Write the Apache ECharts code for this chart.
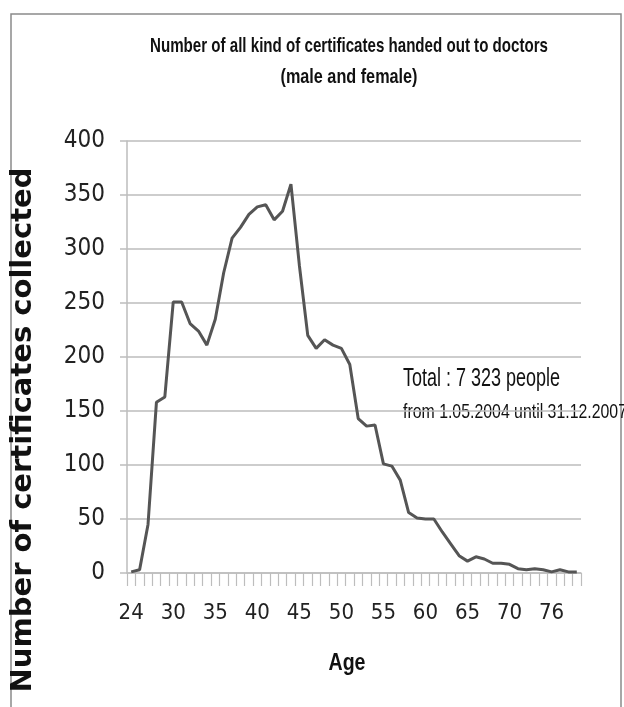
<!DOCTYPE html>
<html>
<head>
<meta charset="utf-8">
<script src="https://cdn.jsdelivr.net/npm/echarts@6/dist/echarts.min.js"></script>
<style>
  html, body { margin: 0; padding: 0; background: #fff; }
  #chart { width: 624px; height: 707px; }
</style>
</head>
<body>
<div id="chart"></div>
<script>
// Age groups along the horizontal axis
const ages = [24, 26, 27, 28, 29, 30, 31, 32, 33, 34, 35, 36, 37, 38, 39, 40,
  41, 42, 43, 44, 45, 46, 47, 48, 49, 50, 51, 52, 53, 54, 55, 56, 57, 58, 59,
  60, 61, 62, 63, 64, 65, 66, 67, 68, 69, 70, 71, 72, 73, 74, 76, 77, 78, 79];

// Certificates collected per age
const certificates = [1, 3, 45, 158, 163, 251, 251, 231, 224, 211, 235, 278,
  310, 320, 332, 339, 341, 327, 335, 360, 285, 220, 208, 216, 211, 208, 193,
  143, 136, 137, 101, 99, 86, 56, 51, 50, 50, 38, 27, 16, 11, 15, 13, 9, 9, 8,
  4, 3, 4, 3, 1, 3, 1, 1];

const yTicks = { min: 0, max: 400, step: 50 };

const titleLine1 = 'Number of all kind of certificates handed out to doctors';
const titleLine2 = '(male and female)';
const totalNote = 'Total : 7 323 people';
const periodNote = 'from 1.05.2004 until 31.12.2007';

const condensed = '"DejaVu Sans Condensed", "Liberation Sans", sans-serif';
const sans = '"Liberation Sans", Arial, sans-serif';
const gridGray = '#bdbdbd';

// Horizontal squeeze factor so a string set in a regular face
// takes the width of a narrow face.
const measureCtx = document.createElement('canvas').getContext('2d');
function squeeze(text, font, width) {
  measureCtx.font = font;
  return width / measureCtx.measureText(text).width;
}

// Narrow text: anchored at (x, y) with its vertical middle on y
function narrowText(text, font, x, y, width, align) {
  return {
    type: 'text',
    x: x, y: y,
    scaleX: squeeze(text, font, width),
    style: {
      text: text, x: 0, y: 0, font: font, fill: '#111',
      textAlign: align, textVerticalAlign: 'middle'
    }
  };
}

const chart = echarts.init(document.getElementById('chart'), null, { renderer: 'canvas' });

const titleFont = 'bold 21px ' + sans;
const totalFont = '25px ' + sans;
const periodFont = '21px ' + sans;
const ageFont = 'bold 23px ' + sans;

chart.setOption({
  backgroundColor: '#ffffff',
  animation: false,
  grid: { left: 127, right: 43, top: 141, bottom: 134, containLabel: false },
  xAxis: {
    type: 'category',
    data: ages,
    boundaryGap: true,
    axisLine: { show: true, lineStyle: { color: gridGray, width: 1.5 } },
    axisTick: { show: true, interval: 0, length: 13, lineStyle: { color: gridGray, width: 1.2 } },
    axisLabel: { interval: 4, margin: 29, color: '#222', fontFamily: condensed, fontSize: 22 },
    splitLine: { show: false }
  },
  yAxis: {
    type: 'value',
    min: yTicks.min,
    max: yTicks.max,
    interval: yTicks.step,
    axisLine: { show: true, lineStyle: { color: gridGray, width: 1.5 } },
    axisTick: { show: true, length: 7, lineStyle: { color: gridGray, width: 1.5 } },
    axisLabel: { margin: 22, color: '#222', fontFamily: condensed, fontSize: 24 },
    splitLine: { show: true, lineStyle: { color: gridGray, width: 1.5 } }
  },
  series: [{
    type: 'line',
    data: certificates,
    symbol: 'none',
    smooth: false,
    lineStyle: { color: '#555555', width: 3 },
    z: 5
  }],
  graphic: [
    {
      type: 'rect',
      shape: { x: 11, y: 14, width: 610, height: 720 },
      style: { fill: 'none', stroke: '#8a8a8a', lineWidth: 1.5 },
      silent: true, z: 0
    },
    narrowText(titleLine1, titleFont, 349, 46, 398, 'center'),
    narrowText(titleLine2, titleFont, 349, 77, 137, 'center'),
    narrowText(totalNote, totalFont, 403, 379, 157, 'left'),
    narrowText(periodNote, periodFont, 403, 412, 224, 'left'),
    {
      type: 'text',
      rotation: Math.PI / 2,
      x: 23, y: 430,
      style: {
        text: 'Number of certificates collected', x: 0, y: 0,
        textAlign: 'center', textVerticalAlign: 'middle',
        font: 'bold 29px "DejaVu Sans", Verdana, sans-serif', fill: '#111'
      }
    },
    narrowText('Age', ageFont, 347, 664, 37, 'center')
  ]
});
</script>
</body>
</html>
